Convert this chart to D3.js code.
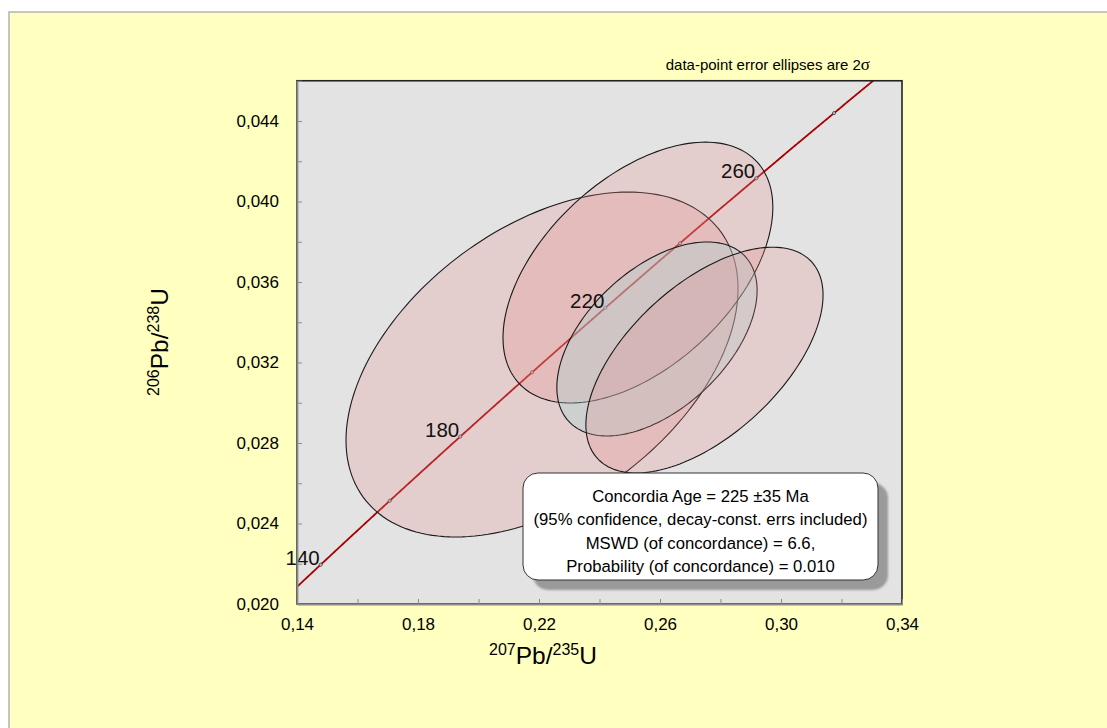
<!DOCTYPE html>
<html>
<head>
<meta charset="utf-8">
<script src="https://cdn.jsdelivr.net/npm/d3@7/dist/d3.min.js"></script>
<style>
  html, body { margin: 0; padding: 0; background: #ffffff; }
  svg { display: block; font-family: "Liberation Sans", Arial, sans-serif; }
</style>
</head>
<body>
<svg id="chart" width="1107" height="728"></svg>
<script>
// ---- Data: U-Pb analyses (2-sigma errors) ----
const pb207u235 = [0.2210, 0.2527, 0.2590, 0.2747];
const err207u235 = [0.0648, 0.0446, 0.0331, 0.0392];
const pb206u238 = [0.03190, 0.03647, 0.03317, 0.03212];
const err206u238 = [0.00857, 0.00648, 0.00482, 0.00561];
const errCorr = [0.44, 0.50, 0.50, 0.575];

// Concordia age markers (Ma) and the ones that carry a label
const concordiaTicks = [140, 160, 180, 200, 220, 240, 260, 280];
const concordiaLabels = [140, 180, 220, 260];

// Axis ticks
const xMajor = [0.14, 0.18, 0.22, 0.26, 0.30, 0.34];
const xMinor = [0.16, 0.20, 0.24, 0.28, 0.32];
const yMajor = [0.020, 0.024, 0.028, 0.032, 0.036, 0.040, 0.044];
const yMinor = [0.022, 0.026, 0.030, 0.034, 0.038, 0.042, 0.046];

// Result box
const resultLines = [
  "Concordia Age = 225 \u00B135 Ma",
  "(95% confidence, decay-const. errs included)",
  "MSWD (of concordance) = 6.6,",
  "Probability (of concordance) = 0.010"
];

// Decay constants (per Ma)
const L238 = 1.55125e-4;
const L235 = 9.8485e-4;

// ---- Layout ----
const svg = d3.select("#chart");
const plot = { left: 297, right: 902, top: 80.75, bottom: 604 };

const x = d3.scaleLinear().domain([0.14, 0.34]).range([plot.left, plot.right]);
const y = d3.scaleLinear().domain([0.020, 0.046]).range([plot.bottom, plot.top]);

// Outer panel
svg.append("rect")
  .attr("x", 9).attr("y", 12).attr("width", 1120).attr("height", 740)
  .attr("fill", "#FFFFC0").attr("stroke", "#b4b4b4").attr("stroke-width", 1.5);

// Plot background
svg.append("rect")
  .attr("x", plot.left).attr("y", plot.top)
  .attr("width", plot.right - plot.left).attr("height", plot.bottom - plot.top)
  .attr("fill", "#E3E3E3");

svg.append("defs").append("clipPath").attr("id", "plotClip")
  .append("rect")
  .attr("x", plot.left).attr("y", plot.top)
  .attr("width", plot.right - plot.left).attr("height", plot.bottom - plot.top);

const inner = svg.append("g").attr("clip-path", "url(#plotClip)");

// Concordia curve
const tMin = Math.log(1 + x.domain()[0]) / L235;
const tMax = Math.log(1 + y.domain()[1]) / L238;
const curvePts = d3.range(tMin, tMax + 0.5, 0.5).concat([tMax]).map(t => [Math.exp(L235 * t) - 1, Math.exp(L238 * t) - 1]);
inner.append("path")
  .attr("d", d3.line().x(d => x(d[0])).y(d => y(d[1]))(curvePts))
  .attr("fill", "none").attr("stroke", "#A80000").attr("stroke-width", 1.8);

// Age markers and labels
const tickPt = t => [Math.exp(L235 * t) - 1, Math.exp(L238 * t) - 1];
inner.selectAll("circle.age").data(concordiaTicks).join("circle")
  .attr("class", "age")
  .attr("cx", t => x(tickPt(t)[0])).attr("cy", t => y(tickPt(t)[1]))
  .attr("r", 1.6).attr("fill", "#bbbbbb").attr("stroke", "#333").attr("stroke-width", 0.7);

svg.selectAll("text.age").data(concordiaLabels).join("text")
  .attr("class", "age")
  .attr("x", t => x(tickPt(t)[0]) - 1).attr("y", t => y(tickPt(t)[1]))
  .attr("text-anchor", "end").attr("font-size", 20.5).attr("fill", "#111")
  .text(t => t);

// Error ellipses
const fills = ["rgba(230,140,140,0.25)", "rgba(230,140,140,0.25)", "rgba(165,215,215,0.35)", "rgba(230,140,140,0.25)"];
const ellipse = i => {
  const r = errCorr[i], s = Math.sqrt(1 - r * r);
  return d3.range(0, 361, 2).map(a => {
    const th = a * Math.PI / 180;
    return [pb207u235[i] + err207u235[i] * Math.cos(th),
            pb206u238[i] + err206u238[i] * (r * Math.cos(th) + s * Math.sin(th))];
  });
};
const ellLine = d3.line().x(d => x(d[0])).y(d => y(d[1])).curve(d3.curveLinearClosed);
inner.selectAll("path.ell").data(d3.range(pb207u235.length)).join("path")
  .attr("class", "ell")
  .attr("d", i => ellLine(ellipse(i)))
  .attr("fill", i => fills[i])
  .attr("stroke", "#1a1a1a").attr("stroke-width", 1.1);

// Frame
svg.append("rect")
  .attr("x", plot.left).attr("y", plot.top)
  .attr("width", plot.right - plot.left).attr("height", plot.bottom - plot.top)
  .attr("fill", "none").attr("stroke", "#222").attr("stroke-width", 1.6);

// Axes
const commaFmt = (p) => v => d3.format("." + p + "f")(v).replace(".", ",");
const xAxis = d3.axisBottom(x)
  .tickValues(xMajor.concat(xMinor))
  .tickFormat(v => xMajor.some(m => Math.abs(m - v) < 1e-9) ? commaFmt(2)(v) : "")
  .tickSizeInner(-5).tickSizeOuter(0).tickPadding(17);
const yAxis = d3.axisLeft(y)
  .tickValues(yMajor.concat(yMinor))
  .tickFormat(v => yMajor.some(m => Math.abs(m - v) < 1e-9) ? commaFmt(3)(v) : "")
  .tickSizeInner(-5).tickSizeOuter(0).tickPadding(18);

const gx = svg.append("g").attr("transform", `translate(0,${plot.bottom})`).call(xAxis);
const gy = svg.append("g").attr("transform", `translate(${plot.left},0)`).call(yAxis);
[gx, gy].forEach(g => {
  g.select(".domain").attr("stroke", "#8c8c8c").attr("stroke-width", 1.8);
  g.selectAll(".tick line").attr("stroke", "#8c8c8c").attr("stroke-width", 1);
  g.selectAll(".tick text").attr("font-size", 17).attr("fill", "#000")
    .attr("font-family", "Liberation Sans, Arial, sans-serif");
});
gx.selectAll(".tick text").attr("dy", "0.71em").attr("y", 14);

// Axis titles
const xt = svg.append("text").attr("x", 543).attr("y", 664)
  .attr("text-anchor", "middle").attr("font-size", 24.5).attr("fill", "#000");
xt.append("tspan").attr("font-size", 16).attr("dy", -9).text("207");
xt.append("tspan").attr("dy", 9).text("Pb/");
xt.append("tspan").attr("font-size", 16).attr("dy", -9).text("235");
xt.append("tspan").attr("dy", 9).text("U");

const yt = svg.append("text").attr("transform", "translate(168,342) rotate(-90)")
  .attr("text-anchor", "middle").attr("font-size", 24.5).attr("fill", "#000");
yt.append("tspan").attr("font-size", 16).attr("dy", -9).text("206");
yt.append("tspan").attr("dy", 9).text("Pb/");
yt.append("tspan").attr("font-size", 16).attr("dy", -9).text("238");
yt.append("tspan").attr("dy", 9).text("U");

// Note above plot
const note = svg.append("text").attr("x", 870).attr("y", 70)
  .attr("text-anchor", "end").attr("font-size", 15).attr("fill", "#000");
note.append("tspan").text("data-point error ellipses are 2");
note.append("tspan").attr("font-family", "Liberation Serif, DejaVu Serif, serif").attr("font-size", 17).text("\u03C3");

// Result box with shadow
const box = { x: 523, y: 473, w: 355, h: 107 };
const defs = svg.select("defs");
defs.append("filter").attr("id", "soft").attr("x", "-10%").attr("y", "-10%").attr("width", "120%").attr("height", "130%")
  .append("feGaussianBlur").attr("stdDeviation", 1.2);
svg.append("rect")
  .attr("x", box.x + 10).attr("y", box.y + 10).attr("width", box.w).attr("height", box.h)
  .attr("rx", 15).attr("fill", "#9a9a9a").attr("filter", "url(#soft)");
svg.append("rect")
  .attr("x", box.x).attr("y", box.y).attr("width", box.w).attr("height", box.h)
  .attr("rx", 15).attr("fill", "#ffffff").attr("stroke", "#333").attr("stroke-width", 1);
const lineY = [501.5, 524.5, 549, 571.5];
svg.selectAll("text.res").data(resultLines).join("text")
  .attr("class", "res")
  .attr("x", box.x + box.w / 2).attr("y", (d, i) => lineY[i])
  .attr("text-anchor", "middle").attr("font-size", 16.7).attr("fill", "#000")
  .text(d => d);
</script>
</body>
</html>
